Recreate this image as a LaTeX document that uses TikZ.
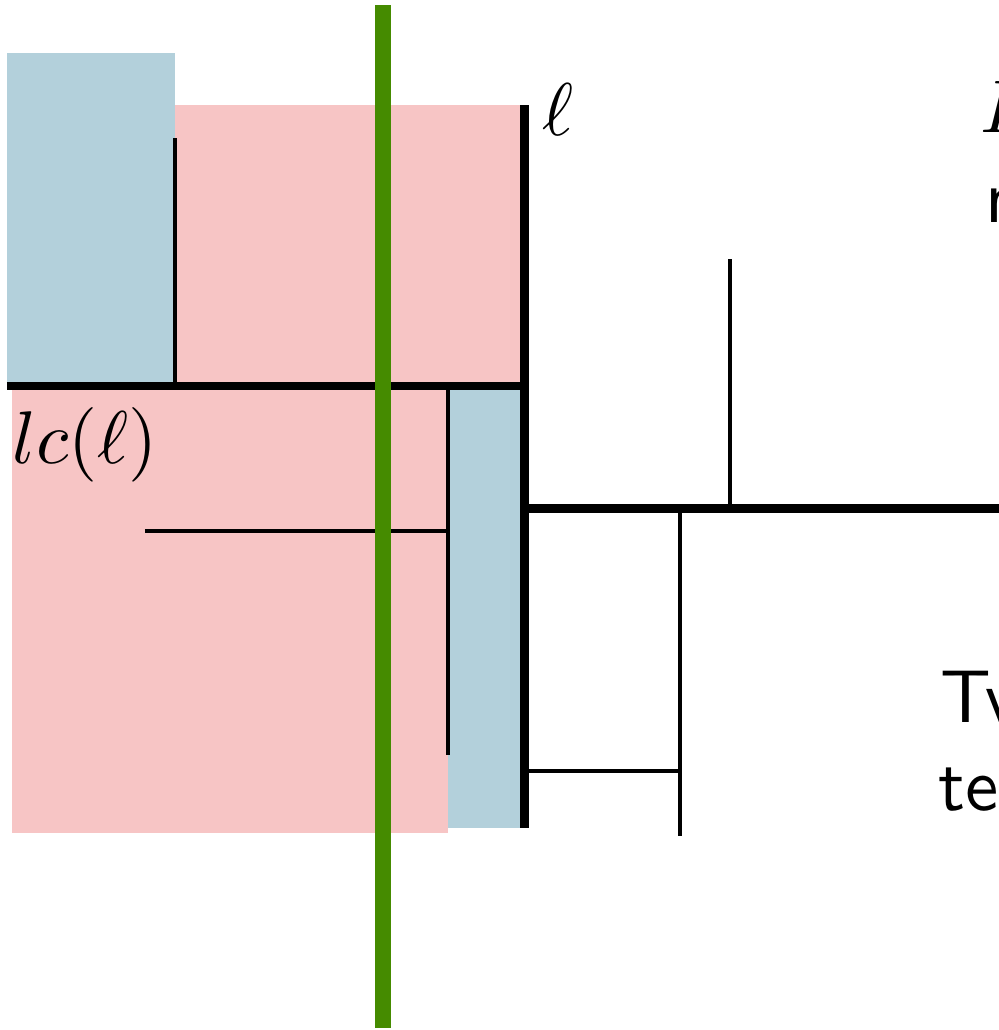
\documentclass[tikz,border=0pt]{standalone}
\usepackage{amsmath,amssymb,xcolor}
\definecolor{boxblue}{RGB}{179,208,219}
\definecolor{boxpink}{RGB}{247,197,197}
\definecolor{cutgreen}{RGB}{69,139,0}
\tikzset{
  thin seg/.style={line width=0.5pt},
  thick seg/.style={line width=1.15pt},
  cut line/.style={cutgreen,line width=2.1pt}
}
\begin{document}
\begin{tikzpicture}[x=0.134pt,y=-0.134pt]
\useasboundingbox (0,0) rectangle (999,1030);
\clip (0,0) rectangle (999,1030);
%The coloured regions first, then the segments on top,
% and the green cut over everything
\fill[boxblue] (7,53) rectangle (175,386);
\fill[boxpink] (175,105) rectangle (524,386);
\fill[boxpink] (12,386) rectangle (448,833);
\fill[boxblue] (448,388) rectangle (524,828);
% left part
\draw[thin seg] (175,138) -- (175,386);
\draw[thin seg] (448,388) -- (448,755);
\draw[thin seg] (145,531) -- (448,531);
\draw[thick seg] (7,386) -- (524,386);
\draw[thick seg] (524.5,105) -- (524.5,828);
% right part
\draw[thick seg] (524,508.5) -- (1010,508.5);
\draw[thin seg] (730,259) -- (730,508);
\draw[thin seg] (680,509) -- (680,836);
\draw[thin seg] (524,771) -- (680,771);
% the cut
\draw[cut line] (383,5) -- (383,1028);
% labels
\node[anchor=base west,inner sep=0pt] (ell) at (541,135) {$\ell$};
\node[anchor=base west,inner sep=0pt] (lcell) at (11,463) {$lc(\ell)$};
\node[anchor=base west,inner sep=0pt] (topL) at (979,132) {$L$};
\node[anchor=base west,inner sep=0pt] (topn) at (984,222) {\sffamily n};
\node[anchor=base west,inner sep=0pt] (botT) at (939,722) {\sffamily Tv};
\node[anchor=base west,inner sep=0pt] (bott) at (937,810) {\sffamily te};
\end{tikzpicture}
\end{document}
